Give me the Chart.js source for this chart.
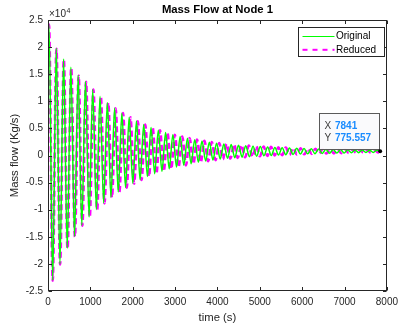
<!DOCTYPE html>
<html>
<head>
<meta charset="utf-8">
<script src="https://cdn.jsdelivr.net/npm/chart.js@4.4.0/dist/chart.umd.min.js"></script>
<style>
  html, body { margin: 0; padding: 0; background: #fff; }
  canvas { display: block; }
</style>
</head>
<body>
<canvas id="flowChart" width="403" height="331"></canvas>
<script>
// peaks / troughs (time in s, mass flow in Kg/s)
const originalTime = [0, 24, 110, 196, 282, 368, 454, 540, 626, 712, 798, 884, 970, 1056, 1142, 1228, 1314, 1400, 1486, 1572, 1658, 1744, 1830, 1916, 2002, 2088, 2174, 2260, 2346, 2432, 2518, 2604, 2690, 2776, 2862, 2948, 3034, 3120, 3206, 3292, 3378, 3464, 3550, 3636, 3722, 3808, 3894, 3980, 4066, 4152, 4238, 4324, 4410, 4496, 4582, 4668, 4754, 4840, 4926, 5012, 5098, 5184, 5270, 5356, 5442, 5528, 5614, 5700, 5786, 5872, 5958, 6044, 6130, 6216, 6302, 6388, 6474, 6560, 6646, 6732, 6818, 6904, 6990, 7076, 7162, 7248, 7334, 7420, 7506, 7592, 7678, 7764, 7841];
const originalFlow = [23900, 24200, -23000, 19800, -20000, 17800, -17100, 16300, -14900, 14800, -12900, 13650, -11350, 12200, -9990, 10910, -8780, 9770, -7700, 8760, -6750, 7860, -5900, 7060, -5150, 6350, -4480, 5730, -3890, 5170, -3360, 4670, -2900, 4230, -2480, 3840, -2120, 3500, -1790, 3190, -1500, 2920, -1250, 2680, -1020, 2460, -820, 2270, -660, 2140, -530, 2020, -420, 1910, -310, 1810, -220, 1720, -130, 1640, -50, 1560, 20, 1490, 90, 1430, 150, 1370, 205, 1320, 255, 1270, 300, 1230, 340, 1190, 380, 1150, 415, 1120, 445, 1090, 475, 1060, 500, 1035, 525, 1015, 550, 990, 570, 975, 775.557];

const reducedTime = [0, 24, 111, 199, 286, 373, 461, 548, 635, 723, 810, 898, 985, 1072, 1160, 1247, 1334, 1422, 1509, 1596, 1684, 1771, 1858, 1946, 2033, 2120, 2208, 2295, 2382, 2470, 2557, 2645, 2732, 2819, 2907, 2994, 3081, 3169, 3256, 3343, 3431, 3518, 3605, 3693, 3780, 3867, 3955, 4042, 4129, 4217, 4304, 4392, 4479, 4566, 4654, 4741, 4828, 4916, 5003, 5090, 5178, 5265, 5352, 5440, 5527, 5614, 5702, 5789, 5876, 5964, 6051, 6138, 6226, 6313, 6400, 6488, 6575, 6663, 6750, 6837, 6925, 7012, 7099, 7187, 7274, 7361, 7449, 7536, 7623, 7711, 7798, 7841];
const reducedFlow = [23900, 24150, -23100, 19700, -20100, 17700, -17200, 16200, -15000, 14700, -12950, 13600, -11400, 12150, -10050, 10850, -8830, 9720, -7750, 8720, -6790, 7820, -5940, 7030, -5180, 6330, -4510, 5710, -3920, 5160, -3390, 4660, -2930, 4220, -2510, 3840, -2150, 3500, -1820, 3200, -1530, 2930, -1280, 2700, -1050, 2480, -850, 2300, -690, 2170, -560, 2050, -440, 1940, -330, 1840, -240, 1750, -150, 1670, -70, 1590, 0, 1520, 70, 1455, 130, 1395, 185, 1340, 235, 1290, 285, 1245, 325, 1205, 365, 1165, 400, 1130, 435, 1100, 465, 1070, 490, 1045, 515, 1020, 540, 1000, 560, 770];

const xTickValues = [0, 1000, 2000, 3000, 4000, 5000, 6000, 7000, 8000];
const yTickValues = [-25000, -20000, -15000, -10000, -5000, 0, 5000, 10000, 15000, 20000, 25000];
const tipTime = 7841;
const tipFlow = 775.557;

const FONT = '"Liberation Sans", Arial, Helvetica, sans-serif';
const AXIS_COLOR = '#262626';

function toPoints(times, values) {
    const n = Math.min(times.length, values.length);
    const pts = [];
    for (let i = 0; i < n; i++) pts.push({ x: times[i], y: values[i] });
    return pts;
}

const matlabLook = {
    id: 'matlabLook',
    afterDatasetsDraw(chart) {
        const { ctx, chartArea: a, scales: { x, y } } = chart;
        ctx.save();

        // axes box + inward ticks on all four sides
        ctx.strokeStyle = AXIS_COLOR;
        ctx.lineWidth = 1;
        const L = Math.round(a.left) + 0.5, R = Math.round(a.right) - 0.5;
        const T = Math.round(a.top) + 0.5, B = Math.round(a.bottom) - 0.5;
        ctx.strokeRect(L, T, R - L, B - T);
        const tl = 3.5;
        ctx.beginPath();
        x.ticks.forEach((t) => {
            const px = Math.round(x.getPixelForValue(t.value)) + 0.5;
            ctx.moveTo(px, B); ctx.lineTo(px, B - tl);
            ctx.moveTo(px, T); ctx.lineTo(px, T + tl);
        });
        y.ticks.forEach((t) => {
            const py = Math.round(y.getPixelForValue(t.value)) + 0.5;
            ctx.moveTo(L, py); ctx.lineTo(L + tl, py);
            ctx.moveTo(R, py); ctx.lineTo(R - tl, py);
        });
        ctx.stroke();

        // title over the axes
        ctx.fillStyle = '#000';
        ctx.font = 'bold 11.3px ' + FONT;
        ctx.textAlign = 'center';
        ctx.textBaseline = 'middle';
        ctx.fillText('Mass Flow at Node 1', (a.left + a.right) / 2, 10);

        // exponent label
        ctx.fillStyle = AXIS_COLOR;
        ctx.textAlign = 'left';
        ctx.textBaseline = 'alphabetic';
        ctx.font = '10px ' + FONT;
        ctx.fillText('\u00d710', a.left + 1, 16.7);
        const w = ctx.measureText('\u00d710').width;
        ctx.font = '7px ' + FONT;
        ctx.fillText('4', a.left + 1 + w + 0.5, 12.5);

        // legend
        const lgW = 86, lgH = 29;
        const lgX = Math.round(a.right) - 3 - lgW + 0.5;
        const lgY = Math.round(a.top) + 7 + 0.5;
        ctx.fillStyle = '#fff';
        ctx.fillRect(lgX, lgY, lgW, lgH);
        ctx.strokeStyle = AXIS_COLOR;
        ctx.lineWidth = 1;
        ctx.strokeRect(lgX, lgY, lgW, lgH);
        chart.data.datasets.forEach((ds, i) => {
            const cy = lgY + 9 + i * 13.3;
            ctx.save();
            ctx.strokeStyle = ds.borderColor;
            ctx.lineWidth = i === 0 ? 1.2 : 2;
            ctx.setLineDash(i === 0 ? [] : [5, 5]);
            ctx.beginPath();
            ctx.moveTo(lgX + 4, cy);
            ctx.lineTo(lgX + 36, cy);
            ctx.stroke();
            ctx.restore();
            ctx.fillStyle = '#000';
            ctx.font = '10px ' + FONT;
            ctx.textBaseline = 'middle';
            ctx.fillText(ds.label, lgX + 37.5, cy);
        });

        // data tip
        const px = x.getPixelForValue(tipTime);
        const py = y.getPixelForValue(tipFlow);
        const bw = 60, bh = 36;
        const bx = Math.round(px) - 1 - bw + 0.5;
        const by = Math.round(py) - 2 - bh + 0.5;
        ctx.fillStyle = 'rgba(250,250,252,0.95)';
        ctx.fillRect(bx, by, bw, bh);
        ctx.strokeStyle = '#5a5a5a';
        ctx.strokeRect(bx, by, bw, bh);
        ctx.textBaseline = 'middle';
        const rows = [['X', String(tipTime)], ['Y', String(tipFlow)]];
        rows.forEach((r, i) => {
            const ty = by + 12.5 + i * 12;
            ctx.fillStyle = '#3c3c3c';
            ctx.font = '10px ' + FONT;
            ctx.fillText(r[0], bx + 5, ty);
            ctx.fillStyle = '#1a8cff';
            ctx.font = 'bold 10px ' + FONT;
            ctx.fillText(r[1], bx + 15.5, ty);
        });
        ctx.fillStyle = '#000';
        ctx.beginPath();
        ctx.arc(px, py, 2, 0, Math.PI * 2);
        ctx.fill();

        ctx.restore();
    }
};

const ctx = document.getElementById('flowChart').getContext('2d');
const flowChart = new Chart(ctx, {
    type: 'line',
    data: {
        datasets: [{
            label: 'Original',
            data: toPoints(originalTime, originalFlow),
            borderColor: '#00ff00',
            borderWidth: 1.5,
            pointRadius: 0,
            cubicInterpolationMode: 'monotone',
            fill: false
        }, {
            label: 'Reduced',
            data: toPoints(reducedTime, reducedFlow),
            borderColor: '#ff00ff',
            borderWidth: 2.6,
            borderDash: [6, 3.5],
            pointRadius: 0,
            cubicInterpolationMode: 'monotone',
            fill: false
        }]
    },
    options: {
        responsive: false,
        animation: false,
        layout: { padding: { top: 20, right: 11, bottom: 0, left: 0 } },
        plugins: {
            legend: { display: false },
            tooltip: { enabled: false },
            title: { display: false }
        },
        scales: {
            x: {
                type: 'linear',
                min: 0,
                max: 8000,
                afterBuildTicks: (scale) => { scale.ticks = xTickValues.map((v) => ({ value: v })); },
                afterFit: (scale) => { scale.height = 40; },
                grid: { display: false, drawTicks: false },
                border: { display: false },
                ticks: {
                    color: AXIS_COLOR,
                    font: { family: FONT, size: 10 },
                    padding: 5,
                    maxRotation: 0,
                    autoSkip: false,
                    callback: (v) => String(v)
                },
                title: {
                    display: true,
                    text: 'time (s)',
                    color: AXIS_COLOR,
                    font: { family: FONT, size: 11.3 },
                    padding: { top: 0, bottom: 6 }
                }
            },
            y: {
                type: 'linear',
                min: -25000,
                max: 25000,
                afterBuildTicks: (scale) => { scale.ticks = yTickValues.map((v) => ({ value: v })); },
                afterFit: (scale) => { scale.width = 48; },
                grid: { display: false, drawTicks: false },
                border: { display: false },
                ticks: {
                    color: AXIS_COLOR,
                    font: { family: FONT, size: 10 },
                    padding: 5,
                    autoSkip: false,
                    callback: (v) => String(v / 10000)
                },
                title: {
                    display: true,
                    text: 'Mass flow (Kg/s)',
                    color: AXIS_COLOR,
                    font: { family: FONT, size: 11.3 },
                    padding: { top: 8, bottom: 0 }
                }
            }
        }
    },
    plugins: [matlabLook]
});
</script>
</body>
</html>
